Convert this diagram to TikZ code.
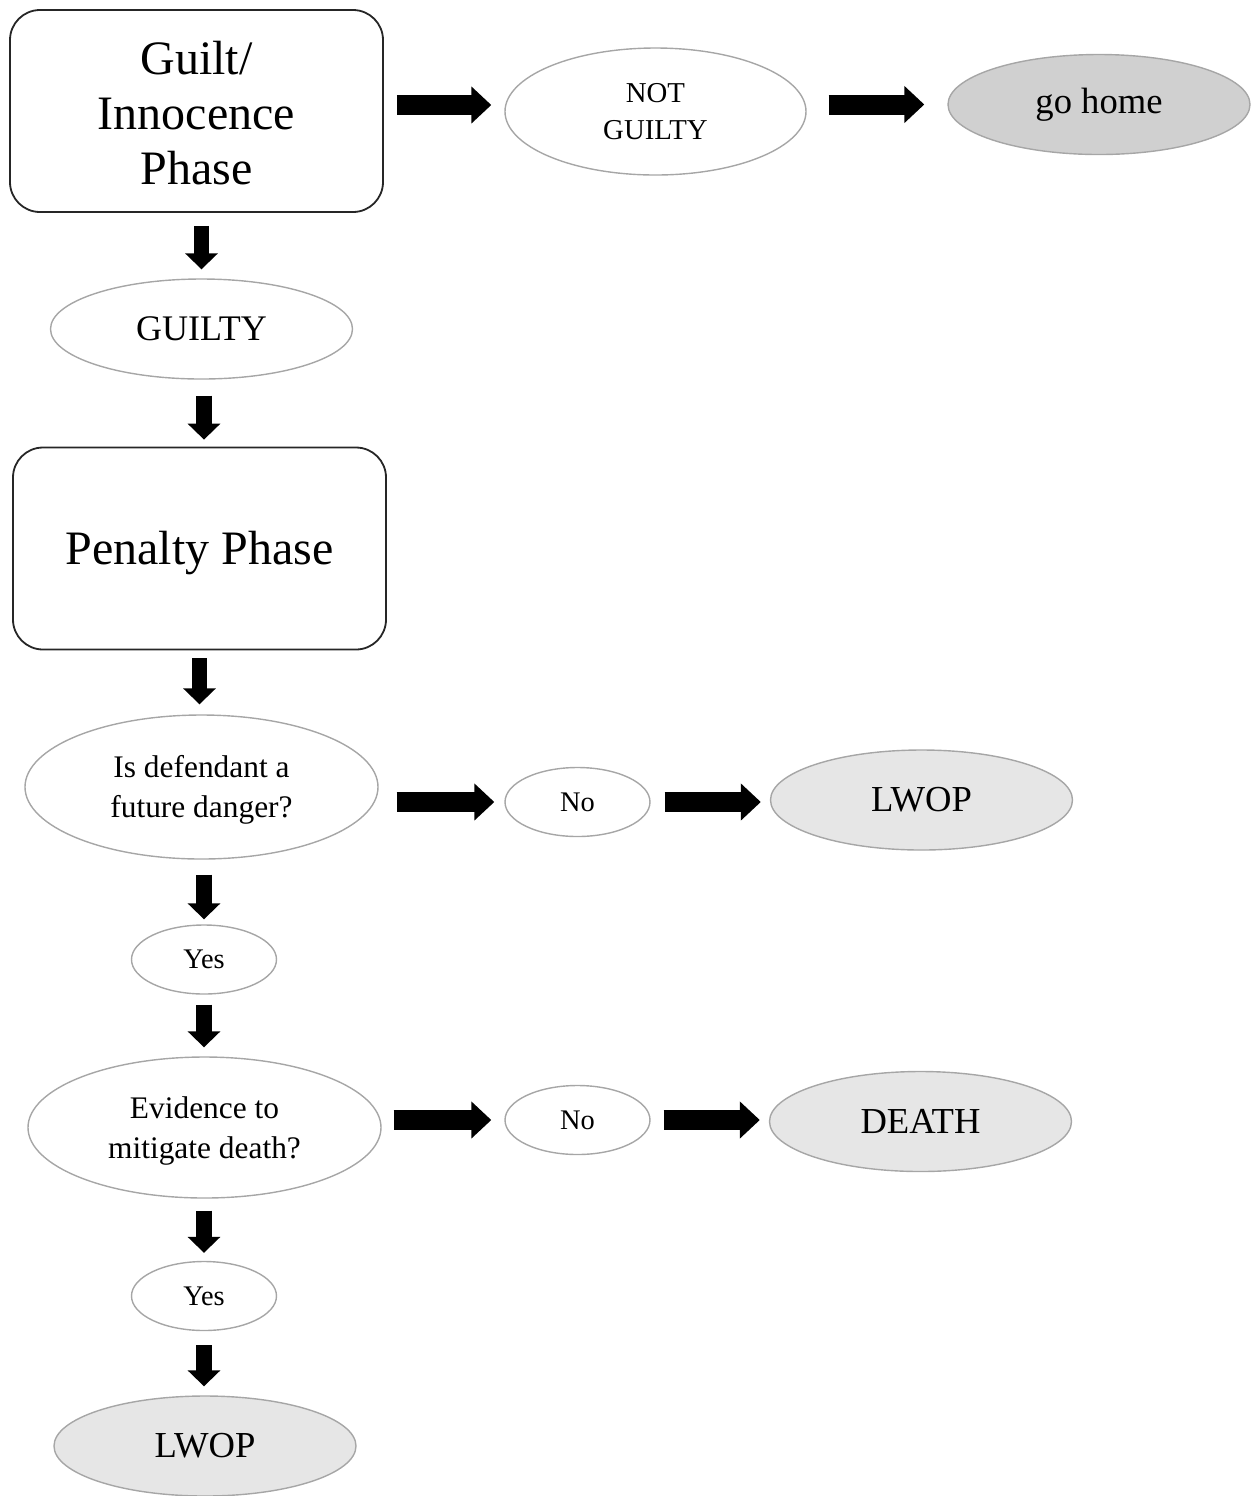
\documentclass[tikz,border=0pt]{standalone}
\usepackage{fontspec}
\setmainfont{Liberation Serif}
\usetikzlibrary{shapes.geometric,arrows.meta}
\definecolor{ovalline}{HTML}{A6A6A6}
\definecolor{homefill}{HTML}{D0D0D0}
\definecolor{endfill}{HTML}{E6E6E6}
% set a line a little lower without changing its box
\newcommand\lowered[2]{\raisebox{-#1}[\height][\depth]{#2}}
\begin{document}
\begin{tikzpicture}[x=0.5pt,y=-0.5pt,
  phasebox/.style={draw=black!85, line width=0.9pt, rounded corners=15pt,
    minimum width=186.5pt, minimum height=101pt, inner sep=0pt, align=center,
    font=\fontsize{24}{27.5}\selectfont},
  oval/.style={ellipse, draw=ovalline, line width=0.7pt, inner sep=0pt, align=center},
  bigoval/.style={oval, minimum width=151pt, minimum height=50pt,
    font=\fontsize{18.3}{21}\selectfont},
  question/.style={oval, minimum width=176.5pt, minimum height=72pt,
    font=\fontsize{15.7}{20}\selectfont},
  answer/.style={oval, minimum width=72.5pt, minimum height=34.5pt,
    font=\fontsize{14.2}{17}\selectfont},
  outcome/.style={bigoval, fill=endfill},
  harrow/.style={line width=10pt, -{Triangle[length=10pt,width=18pt]}},
  varrow/.style={line width=7.8pt, -{Triangle[length=8pt,width=16pt]}},
  gaps/.style 2 args={shorten <=#1, shorten >=#2}
]
\useasboundingbox (0,0) rectangle (1259,1496);

% phases
\node[phasebox] (guilt) at (196.5,111)
  {\lowered{1pt}{Guilt/}\\\lowered{1pt}{Innocence}\\\lowered{1pt}{Phase}};
\node[phasebox] (penalty) at (199.5,548.5) {\lowered{2.5pt}{Penalty Phase}};

% verdicts
\node[oval, minimum width=150.5pt, minimum height=63.5pt,
  font=\fontsize{14.4}{18.5}\selectfont] (notguilty) at (655.5,111.5) {NOT\\GUILTY};
\node[bigoval, fill=homefill] (home) at (1099,104.5) {go home};
\node[bigoval, font=\fontsize{18}{21}\selectfont] (guilty) at (201.5,329) {GUILTY};

% first question
\node[question] (danger) at (201.5,787)
  {\lowered{1.5pt}{Is defendant a}\\\lowered{1.5pt}{future danger?}};
\node[answer] (no1) at (577.5,802) {No};
\node[outcome] (lwop1) at (921.5,800) {LWOP};
\node[answer] (yes1) at (204,959.5) {Yes};

% second question
\node[question, minimum height=70.5pt] (mitigate) at (204.5,1127.5)
  {\lowered{1.5pt}{Evidence to}\\\lowered{1.5pt}{mitigate death?}};
\node[answer] (no2) at (577.5,1120) {No};
\node[outcome] (death) at (920.5,1121.5) {DEATH};
\node[answer] (yes2) at (204,1296) {Yes};
\node[outcome] (lwop2) at (205,1446) {LWOP};

% horizontal block arrows
\draw[harrow, gaps={6.5pt}{6.5pt}] (guilt.east |- 0,105) -- (notguilty.west |- 0,105);
\draw[harrow, gaps={11pt}{11.5pt}] (notguilty.east |- home.west) -- (home.west);
\draw[harrow, gaps={9pt}{5pt}] (danger.east |- no1.west) -- (no1.west);
\draw[harrow, gaps={7pt}{4.5pt}] (no1.east) -- (lwop1.west |- no1.east);
\draw[harrow, gaps={6pt}{6.5pt}] (mitigate.east |- no2.west) -- (no2.west);
\draw[harrow, gaps={6.5pt}{4.5pt}] (no2.east) -- (death.west |- no2.east);

% vertical block arrows
\draw[varrow, gaps={6.5pt}{4.5pt}] (guilty.north |- guilt.south) -- (guilty.north);
\draw[varrow, gaps={8pt}{3.5pt}] (204,0 |- guilty.south) -- (204,0 |- penalty.north);
\draw[varrow, gaps={4pt}{5pt}] (penalty.south) -- (penalty.south |- danger.north);
\draw[varrow, gaps={7.5pt}{2.5pt}] (yes1.north |- danger.south) -- (yes1.north);
\draw[varrow, gaps={5pt}{4.5pt}] (yes1.south) -- (yes1.south |- mitigate.north);
\draw[varrow, gaps={6pt}{4pt}] (yes2.north |- mitigate.south) -- (yes2.north);
\draw[varrow, gaps={7pt}{4.5pt}] (yes2.south) -- (yes2.south |- lwop2.north);
\end{tikzpicture}
\end{document}
